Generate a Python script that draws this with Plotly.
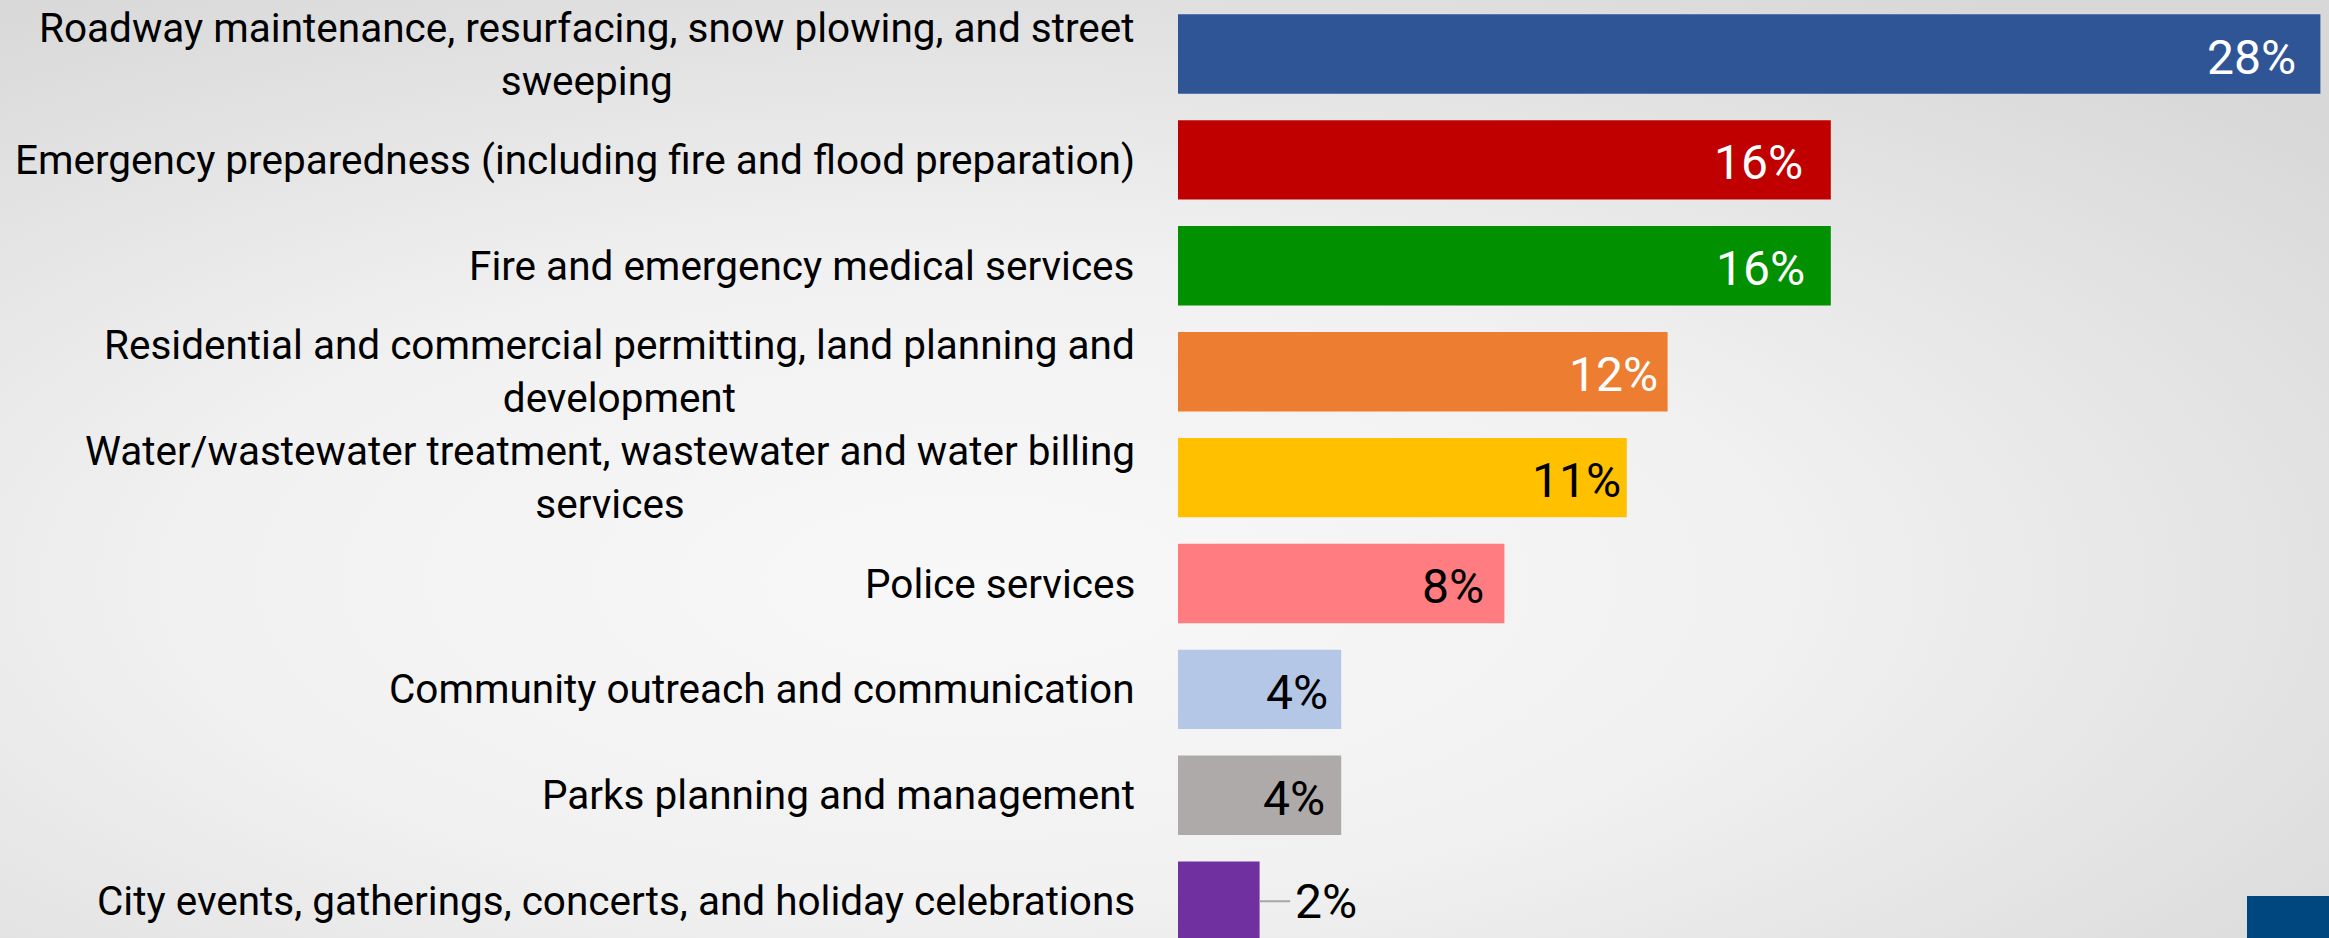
import base64
import plotly.graph_objects as go

# ---- data ----
categories = [
    "Roadway maintenance, resurfacing, snow plowing, and street<br>sweeping",
    "Emergency preparedness (including fire and flood preparation)",
    "Fire and emergency medical services",
    "Residential and commercial permitting, land planning and<br>development",
    "Water/wastewater treatment, wastewater and water billing<br>services",
    "Police services",
    "Community outreach and communication",
    "Parks planning and management",
    "City events, gatherings, concerts, and holiday celebrations",
]
values = [28, 16, 16, 12, 11, 8, 4, 4, 2]
value_labels = ["28%", "16%", "16%", "12%", "11%", "8%", "4%", "4%", "2%"]

# ---- styling ----
bar_colors = ["#2F5597", "#C00000", "#009000", "#ED7D31", "#FFC000",
              "#FF7C80", "#B4C7E7", "#AEAAAA", "#7030A0"]
label_colors = ["white", "white", "white", "white", "black",
                "black", "black", "black", "black"]
label_pad = [22, 26, 24, 8, 4, 18, 11, 14]  # inside-end padding in px
FONT = "Roboto"

W, H = 2329, 938
LEFT = 1178

svg = f'''<svg xmlns="http://www.w3.org/2000/svg" width="{W}" height="{H}" viewBox="0 0 {W} {H}" preserveAspectRatio="none">
<defs><radialGradient id="g" cx="0.42" cy="0.62" r="0.75" gradientUnits="objectBoundingBox">
<stop offset="0" stop-color="#f8f8f8"/><stop offset="0.45" stop-color="#f1f1f1"/><stop offset="1" stop-color="#d8d8d8"/>
</radialGradient></defs><rect width="{W}" height="{H}" fill="url(#g)"/></svg>'''
bg_uri = "data:image/svg+xml;base64," + base64.b64encode(svg.encode()).decode()

fig = go.Figure()
fig.add_trace(go.Bar(
    x=values, y=categories, orientation="h",
    marker=dict(color=bar_colors, line=dict(width=0)),
    width=0.75, hoverinfo="skip",
))

plot_w = W - LEFT
fig.update_layout(
    width=W, height=H,
    margin=dict(l=LEFT, r=0, t=0, b=0),
    paper_bgcolor="#eeeeee", plot_bgcolor="rgba(0,0,0,0)",
    showlegend=False,
    xaxis=dict(range=[0, plot_w / 40.8], visible=False, fixedrange=True),
    yaxis=dict(type="category", categoryarray=categories,
               range=[(H - 54) / 105.9, -54 / 105.9],
               showticklabels=False, showgrid=False, zeroline=False,
               showline=False, ticks="", fixedrange=True),
    images=[dict(source=bg_uri, xref="paper", yref="paper",
                 x=-LEFT / plot_w, y=1, sizex=W / plot_w, sizey=1,
                 xanchor="left", yanchor="top", sizing="stretch",
                 layer="below")],
)

annotations = []
for cat in categories:
    annotations.append(dict(
        x=0, y=cat, xref="x", yref="y", text=cat, showarrow=False,
        xanchor="right", yanchor="middle", align="center", xshift=-41,
        font=dict(family=FONT, size=40.5, color="black")))

for i, (cat, v, lab) in enumerate(zip(categories, values, value_labels)):
    if i < len(label_pad):
        annotations.append(dict(
            x=v, y=cat, xref="x", yref="y", text=lab, showarrow=False,
            xanchor="right", yanchor="middle", xshift=-label_pad[i], yshift=-3,
            font=dict(family=FONT, size=48, color=label_colors[i])))
    else:
        annotations.append(dict(
            x=v, y=cat, xref="x", yref="y", text=lab, showarrow=True,
            arrowhead=0, arrowwidth=2, arrowcolor="#a6a6a6",
            ax=66, ay=0, standoff=0, borderpad=4,
            font=dict(family=FONT, size=48, color=label_colors[i])))

fig.update_layout(annotations=annotations)

# partial logo block in the bottom-right corner
fig.add_shape(type="rect", xref="paper", yref="paper",
              x0=(2247 - LEFT) / plot_w, x1=1.0, y0=0, y1=(H - 896) / H,
              fillcolor="#00467F", line=dict(width=0), layer="above")

fig.write_html(
    "out.html",
    config={"displayModeBar": False},
    post_script="document.body.style.margin='0';document.body.style.overflow='hidden';",
)
